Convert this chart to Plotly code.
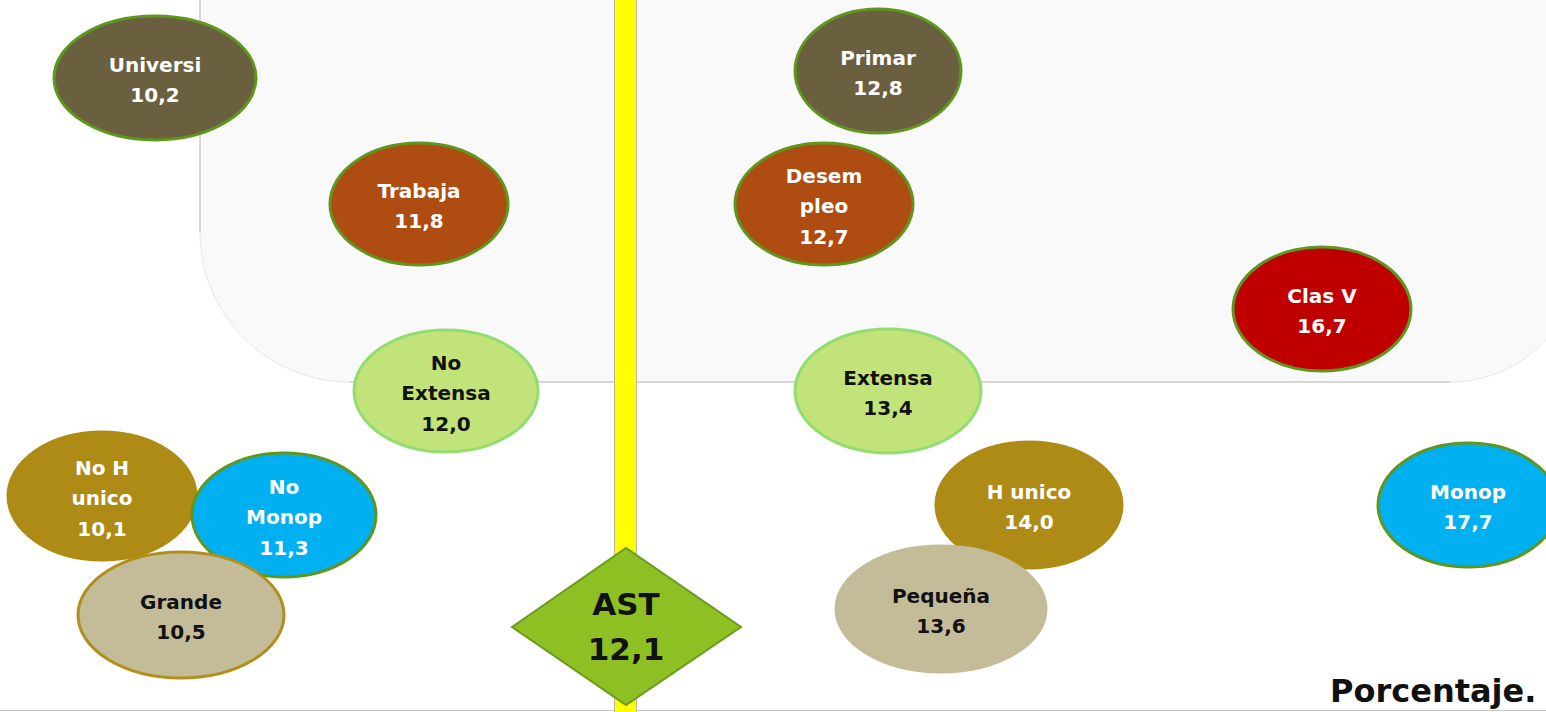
import plotly.graph_objects as go

# data
labels = ["Universi", "Trabaja", "No\nExtensa", "No H\nunico", "No\nMonop", "Grande",
          "Primar", "Desem\npleo", "Extensa", "H unico", "Pequeña", "Clas V", "Monop"]
values = [10.2, 11.8, 12.0, 10.1, 11.3, 10.5,
          12.8, 12.7, 13.4, 14.0, 13.6, 16.7, 17.7]
total_label = "AST"
total_value = 12.1
unit_label = "Porcentaje."

# layout of the diagram (pixel-like coordinates, y down)
centers = [(155, 78), (419, 204), (446, 391), (102, 496), (284, 515), (181, 615),
           (878, 71), (824, 204), (888, 391), (1029, 505), (941, 609), (1322, 309), (1468, 505)]
radii = [(101, 62), (89, 61), (92, 61), (94, 64), (92, 62), (103, 63),
         (83, 62), (89, 61), (93, 62), (93, 63), (105, 63), (89, 62), (90, 62)]
fills = ["#6a6040", "#ae4c12", "#c2e37a", "#ae8b15", "#00b0f0", "#c4bb98",
         "#6a6040", "#ae4c12", "#c2e37a", "#ae8b15", "#c4bb98", "#c00000", "#00b0f0"]
borders = ["#5f961e", "#5f961e", "#92dc70", "#ae8b15", "#5f961e", "#b0901a",
           "#5f961e", "#5f961e", "#92dc70", "#ae8b15", "#c4bb98", "#5f961e", "#5f961e"]
dark_text = {"#c2e37a", "#c4bb98"}

W, H = 1546, 712
fig = go.Figure()

shapes = []
k = 0.5523
# light panel with rounded corners
shapes.append(dict(type="path",
                   path=f"M 200,-10 L 200,232 C 200,{232+150*k} {350-150*k},382 350,382 "
                        f"L 1450,382 C {1450+130*k},382 1580,{252+130*k} 1580,252 L 1580,-10 Z",
                   fillcolor="#f9f9f9", line=dict(color="#e6e6e6", width=1), layer="below"))
shapes.append(dict(type="line", x0=200, x1=200, y0=0, y1=232, line=dict(color="#bdbdbd", width=1), layer="below"))
shapes.append(dict(type="line", x0=350, x1=1450, y0=382, y1=382, line=dict(color="#bdbdbd", width=1), layer="below"))
shapes.append(dict(type="line", x0=0, x1=W, y0=710.5, y1=710.5, line=dict(color="#c4c4c4", width=1), layer="below"))
# yellow bar
shapes.append(dict(type="rect", x0=614.5, x1=636.5, y0=-5, y1=W, fillcolor="#ffff00",
                   line=dict(color="#b8b8a0", width=1), layer="below"))

# ellipses
for (cx, cy), (rx, ry), fc, lc in zip(centers, radii, fills, borders):
    shapes.append(dict(type="circle", x0=cx - rx, x1=cx + rx, y0=cy - ry, y1=cy + ry,
                       fillcolor=fc, line=dict(color=lc, width=3), layer="below"))

# diamond
shapes.append(dict(type="path", path="M 512,627 L 626,548 L 741,627 L 626,705 Z",
                   fillcolor="#8fc023", line=dict(color="#6c9a1c", width=2), layer="below"))

# texts
tx = {True: ([], [], []), False: ([], [], [])}
for lab, val, (cx, cy), fc in zip(labels, values, centers, fills):
    lines = lab.split("\n") + [f"{val:.1f}".replace(".", ",")]
    n = len(lines)
    xs, ys, ts = tx[fc in dark_text]
    for i, ln in enumerate(lines):
        xs.append(cx)
        ys.append(cy + 4 + (i - (n - 1) / 2) * 30.5)
        ts.append(f"<b>{ln}</b>")

for dark, (xs, ys, ts) in tx.items():
    fig.add_trace(go.Scatter(x=xs, y=ys, text=ts, mode="text", hoverinfo="skip",
                             textfont=dict(family="DejaVu Sans", size=20,
                                           color="#111111" if dark else "#ffffff")))

fig.add_trace(go.Scatter(x=[626, 626], y=[607, 652],
                         text=[f"<b>{total_label}</b>", "<b>" + f"{total_value:.1f}".replace(".", ",") + "</b>"],
                         mode="text", hoverinfo="skip",
                         textfont=dict(family="DejaVu Sans", size=31, color="#111111")))

fig.update_layout(width=W, height=H,
                  margin=dict(l=0, r=0, t=0, b=0),
                  paper_bgcolor="white", plot_bgcolor="white",
                  showlegend=False,
                  shapes=shapes,
                  xaxis=dict(range=[0, W], visible=False, fixedrange=True),
                  yaxis=dict(range=[H, 0], visible=False, fixedrange=True),
                  annotations=[dict(text=f"<b>{unit_label}</b>", x=1538, y=691, xref="x", yref="y",
                                    xanchor="right", yanchor="middle", showarrow=False,
                                    font=dict(family="DejaVu Sans", size=32, color="#111111"))])

fig.write_html("out.html", config=dict(displayModeBar=False),
               post_script="document.body.style.margin='0';document.body.style.overflow='hidden';")
